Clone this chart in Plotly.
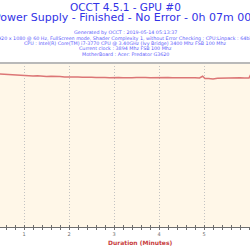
import plotly.graph_objects as go

# Data
minutes = [0.4, 0.5, 0.6, 0.7, 0.8, 0.9, 1.0, 1.1, 1.2, 1.3, 1.4, 1.5, 1.6, 1.7, 1.8, 1.9,
           2.0, 2.1, 2.2, 2.3, 2.4, 2.5, 2.6, 2.7, 2.8, 2.9, 3.0, 3.1, 3.2, 3.3, 3.4, 3.5,
           3.6, 3.7, 3.8, 3.9, 4.0, 4.1, 4.2, 4.3, 4.4, 4.5, 4.6, 4.7, 4.8, 4.9, 4.97, 5.02,
           5.1, 5.2, 5.3, 5.4, 5.5, 5.6, 5.7, 5.8, 5.9, 6.0, 6.03, 6.1]
power = [93.4, 93.2, 92.9, 92.6, 92.8, 92.4, 92.3, 92.1, 92.0, 92.2, 91.9, 91.8, 91.9, 91.6, 91.7, 91.5,
         91.6, 91.4, 91.5, 91.3, 91.4, 91.3, 91.1, 91.3, 91.2, 91.0, 91.2, 91.1, 91.0, 91.2, 91.0, 91.1,
         90.9, 91.1, 91.0, 91.1, 91.0, 90.9, 91.1, 91.0, 90.9, 91.0, 91.1, 91.0, 91.0, 90.9, 91.9, 90.6,
         90.5, 90.2, 90.7, 90.8, 91.0, 90.9, 91.0, 91.0, 90.9, 90.8, 92.6, 92.8]
x_ticks = [1, 2, 3, 4, 5, 6]
x_ticklabels = ["1", "2", "3", "4", "5", "6"]

title1 = "OCCT 4.5.1 - GPU #0"
title2 = "Power Supply - Finished - No Error - 0h 07m 00s"
info_lines = [
    "Generated by OCCT : 2019-05-14 05:13:37",
    "1920 x 1080 @ 60 Hz, FullScreen mode, Shader Complexity 1, without Error Checking ; CPU:Linpack : 64bits",
    "CPU : Intel(R) Core(TM) i7-3770 CPU @ 3.40GHz (Ivy Bridge) 3400 Mhz FSB 100 Mhz",
    "Current clock : 3894 Mhz FSB 100 Mhz",
    "MotherBoard : Acer: Predator G3620",
]
x_title = "Duration (Minutes)"

W = H = 250
def py(px):
    return 1 - px / H

x_range = [1 - 24 / 45, 1 + (250 - 24) / 45]

fig = go.Figure()
fig.add_trace(go.Scatter(x=minutes, y=power, mode="lines",
                         line=dict(color="rgb(220,118,118)", width=1.5),
                         hoverinfo="skip", showlegend=False))
fig.add_trace(go.Scatter(x=[x_range[0]], y=[0], xaxis="x2", mode="markers",
                         marker=dict(opacity=0), showlegend=False, hoverinfo="skip"))

fig.update_layout(
    width=W, height=H, autosize=False,
    margin=dict(l=0, r=0, t=0, b=0),
    paper_bgcolor="white",
    plot_bgcolor="rgb(255,247,232)",
    xaxis=dict(
        domain=[0, 1], range=x_range, tickvals=x_ticks, ticktext=x_ticklabels,
        showgrid=True, gridcolor="rgb(195,195,195)", gridwidth=1, griddash="1px,2px",
        zeroline=False, showline=True, linecolor="rgb(110,110,110)", linewidth=1,
        ticks="outside", ticklen=2, tickcolor="rgb(110,110,110)", tickwidth=1,
        minor=dict(dtick=0.2, tick0=0, ticks="outside", ticklen=2,
                   tickcolor="rgb(110,110,110)", showgrid=False),
        tickfont=dict(family="DejaVu Sans", size=5, color="rgb(110,110,110)"),
        fixedrange=True,
    ),
    xaxis2=dict(
        overlaying="x", matches="x", anchor="y", side="bottom",
        tickvals=x_ticks, showticklabels=False, showgrid=False, zeroline=False,
        showline=False, ticks="inside", ticklen=2, tickcolor="rgb(110,110,110)",
        minor=dict(dtick=0.2, tick0=0, ticks="inside", ticklen=2,
                   tickcolor="rgb(110,110,110)", showgrid=False),
    ),
    yaxis=dict(
        domain=[py(227), py(63)], range=[0, 100], showgrid=False, zeroline=False,
        showticklabels=False, showline=False, ticks="", fixedrange=True,
    ),
    shapes=[dict(type="line", xref="paper", yref="paper", x0=0, x1=1,
                 y0=py(63), y1=py(63), line=dict(color="rgb(185,185,185)", width=2))],
)

ann = []
ann.append(dict(text=title1, x=0.5, y=py(7), xref="paper", yref="paper",
                showarrow=False, xanchor="center", yanchor="middle",
                font=dict(family="DejaVu Sans", size=10.5, color="rgb(50,50,230)")))
ann.append(dict(text=title2, x=0.5, y=py(18), xref="paper", yref="paper",
                showarrow=False, xanchor="center", yanchor="middle",
                font=dict(family="DejaVu Sans", size=11, color="rgb(50,50,230)")))
for i, t in enumerate(info_lines):
    ann.append(dict(text=t, x=0.5, y=py(32.5 + i * 5.5), xref="paper", yref="paper",
                    showarrow=False, xanchor="center", yanchor="middle",
                    font=dict(family="DejaVu Sans", size=4.8, color="rgb(90,90,250)")))
ann.append(dict(text="<b>" + x_title + "</b>", x=140 / W, y=py(242), xref="paper", yref="paper",
                showarrow=False, xanchor="center", yanchor="middle",
                font=dict(family="DejaVu Sans", size=6, color="rgb(200,60,60)")))
fig.update_layout(annotations=ann)

fig.write_html("out.html")
